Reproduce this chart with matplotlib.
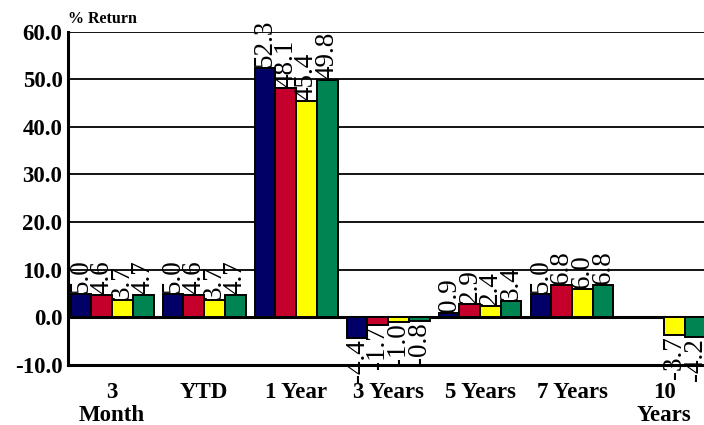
import numpy as np
import matplotlib
matplotlib.use("Agg")
import matplotlib.pyplot as plt

# returns per period, four series (NaN = no data)
periods = ["3\nMonth", "YTD", "1 Year", "3 Years", "5 Years", "7 Years", "10\nYears"]
navy = [5.0, 5.0, 52.3, -4.4, 0.9, 5.0, np.nan]
red = [4.6, 4.6, 48.1, -1.7, 2.9, 6.8, np.nan]
yellow = [3.7, 3.7, 45.4, -1.0, 2.4, 6.0, -3.7]
green = [4.7, 4.7, 49.8, -0.8, 3.4, 6.8, -4.2]
yticks = [-10, 0, 10, 20, 30, 40, 50, 60]

series = [navy, red, yellow, green]
colors = ["#000066", "#c4002b", "#ffff00", "#008452"]

plt.rcParams['font.family'] = ['Liberation Serif', 'DejaVu Serif']

fig = plt.figure(figsize=(7.04, 4.25), dpi=100)
ax = fig.add_axes([68 / 704, 1 - 365 / 425, 1 - 68 / 704, (365 - 31.5) / 425])

x = np.arange(len(periods))
w = 0.225
for i, (vals, c) in enumerate(zip(series, colors)):
    xs = x - 1.5 * w + i * w
    v = np.array(vals, dtype=float)
    ok = ~np.isnan(v)
    ax.bar(xs[ok], v[ok], width=w, color=c, edgecolor="black", linewidth=1.4, zorder=3)
    for xi, vi in zip(xs[ok], v[ok]):
        if vi >= 0:
            ax.text(xi, vi + 0.2, "%.1f" % vi, rotation=90, ha="center", va="bottom",
                    fontsize=19.5, zorder=4, clip_on=False)
        else:
            ax.text(xi, vi - 0.2, "%.1f" % vi, rotation=90, ha="center", va="top",
                    fontsize=19.5, zorder=4, clip_on=False)

ax.set_xlim(-0.48, 6.434)
ax.set_ylim(-10, 60)
ax.set_yticks(yticks)
ax.set_yticklabels(["%.1f" % t for t in yticks], fontsize=16.5, fontweight="bold")
ax.set_xticks(x)
ax.set_xticklabels(periods, fontsize=16.5, fontweight="bold", linespacing=1.15)
ax.tick_params(length=0)
ax.tick_params(axis="x", pad=12)
ax.tick_params(axis="y", pad=4)

ax.yaxis.grid(True, color="black", linewidth=1.3, zorder=1)
ax.set_axisbelow(True)
ax.axhline(0, color="black", linewidth=2.2, zorder=2)
for s in ["top", "right"]:
    ax.spines[s].set_visible(False)
for s in ["left", "bottom"]:
    ax.spines[s].set_linewidth(2.2)

fig.text(68 / 704, 1 - 27 / 425, "% Return", fontsize=11.5, fontweight="bold", ha="left", va="bottom")

fig.savefig("out.png", dpi=100)
